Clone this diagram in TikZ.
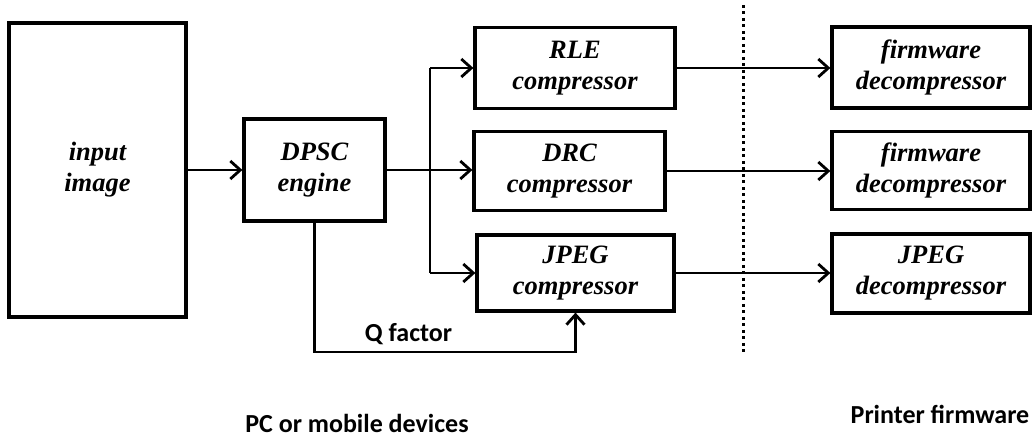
\documentclass[tikz,border=0pt]{standalone}
\usepackage{fontspec}
\setmainfont{Liberation Serif}
\newfontfamily\labfont{Carlito}
\usetikzlibrary{arrows.meta}
\begin{document}
\begin{tikzpicture}[x=1pt,y=-1pt,
  blk/.style={draw,line width=3.2pt,inner sep=0pt,align=center,
    font=\fontsize{26.5}{31}\selectfont\bfseries\itshape},
  arr/.style={line width=2.8pt,-{Straight Barb[length=10pt,width=18pt,line width=2.8pt]}},
  ln/.style={line width=2.8pt},
  lab/.style={font=\labfont\fontsize{26}{30}\selectfont\bfseries,inner sep=0pt,anchor=base}]
\useasboundingbox (0,0) rectangle (1034,438);
\node[blk,minimum width=177pt,minimum height=294pt] (inp) at (97.5,170) {input\\image};
\node[blk,minimum width=141pt,minimum height=102pt] (dpsc) at (314.5,170) {DPSC\\engine};
\node[blk,minimum width=200pt,minimum height=81pt] (rle) at (575,68) {RLE\\compressor};
\node[blk,minimum width=191pt,minimum height=79pt] (drc) at (569.5,171) {DRC\\compressor};
\node[blk,minimum width=197pt,minimum height=76pt] (jpc) at (575.5,273) {JPEG\\compressor};
\node[blk,minimum width=198pt,minimum height=81pt] (fw1) at (931,67.5) {firmware\\decompressor};
\node[blk,minimum width=198pt,minimum height=78pt] (fw2) at (931,170.5) {firmware\\decompressor};
\node[blk,minimum width=198pt,minimum height=79pt] (jpd) at (931,273.5) {JPEG\\decompressor};
\coordinate (br) at (430,170);
\coordinate (qc) at (575.5,352);
\coordinate (dtop) at (743,5);
\coordinate (dbot) at (743,356);
% connectors
\draw[arr] (inp.east |- dpsc.west) -- (dpsc.west);
\draw[arr] (dpsc.east) -- (drc.west |- dpsc.east);
\draw[ln] (br |- rle.west) -- (br |- jpc.west);
\draw[arr] (br |- rle.west) -- (rle.west);
\draw[arr] (br |- jpc.west) -- (jpc.west);
\draw[arr] (rle.east) -- (fw1.west |- rle.east);
\draw[arr] (drc.east) -- (fw2.west |- drc.east);
\draw[arr] (jpc.east) -- (jpd.west |- jpc.east);
\draw[arr] (dpsc.south) |- (qc) -- (jpc.south);
\draw[line width=3pt,dash pattern=on 3pt off 3.5pt] (dtop) -- (dbot);
% labels
\node[lab] (qf) at (408.5,342) {Q factor};
\node[lab] (pc) at (357,432) {PC or mobile devices};
\node[lab] (pf) at (940,423) {Printer firmware};
\end{tikzpicture}
\end{document}
